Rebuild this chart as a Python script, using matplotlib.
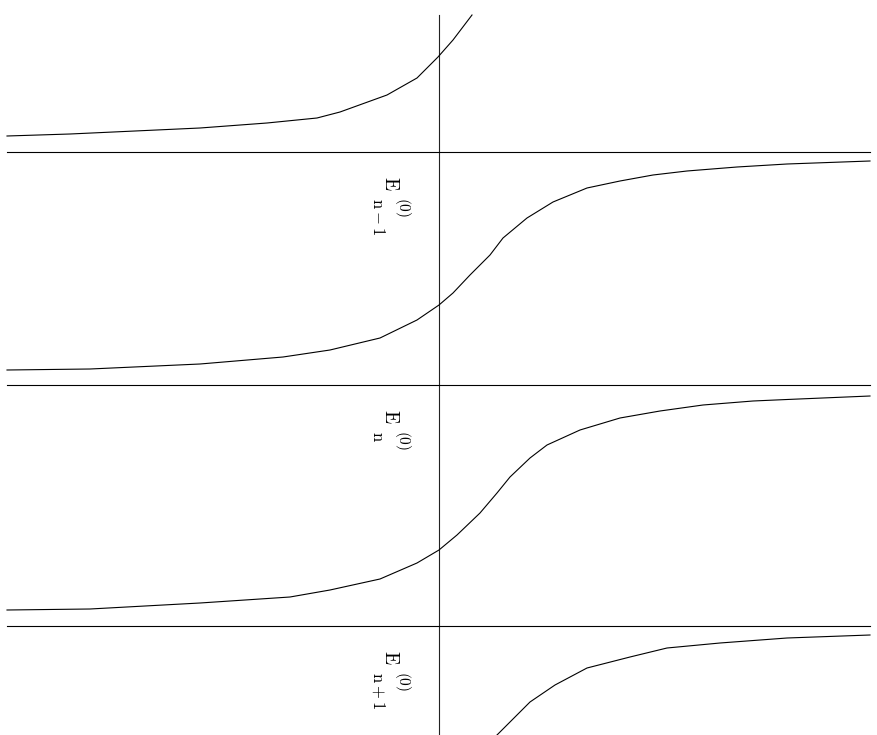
import numpy as np
import matplotlib.pyplot as plt

plt.rcParams['mathtext.fontset'] = 'cm'

# unperturbed levels E_{n-1}, E_n, E_{n+1}
levels = [2.33, 0.0, -2.41]
level_subs = [r'$\mathrm{n}-\mathrm{1}$', r'$\mathrm{n}$', r'$\mathrm{n}+\mathrm{1}$']

# perturbed branches
x1 = [-4.32, -3.69, -2.39, -1.72, -1.22, -0.99, -0.52, -0.22, -0.01, 0.14, 0.33]
y1 = [2.49, 2.51, 2.57, 2.62, 2.67, 2.73, 2.90, 3.07, 3.28, 3.45, 3.70]

x2 = [-4.32, -3.49, -2.39, -1.56, -1.09, -0.59, -0.22, 0.00, 0.14, 0.31, 0.51,
      0.64, 0.88, 1.14, 1.48, 1.81, 2.14, 2.48, 2.98, 3.48, 4.31]
y2 = [0.15, 0.16, 0.21, 0.28, 0.35, 0.47, 0.65, 0.80, 0.92, 1.10, 1.30,
      1.47, 1.67, 1.83, 1.97, 2.04, 2.10, 2.14, 2.18, 2.21, 2.24]

x3 = [-4.32, -3.49, -2.39, -1.49, -1.09, -0.59, -0.22, 0.00, 0.18, 0.41, 0.58,
      0.71, 0.91, 1.08, 1.41, 1.81, 2.21, 2.64, 3.14, 3.48, 4.31]
y3 = [-2.25, -2.24, -2.18, -2.12, -2.05, -1.94, -1.78, -1.65, -1.50, -1.28, -1.08,
      -0.92, -0.73, -0.60, -0.45, -0.33, -0.26, -0.20, -0.16, -0.145, -0.11]

x4 = [0.58, 0.91, 1.16, 1.48, 1.91, 2.28, 2.81, 3.48, 4.31]
y4 = [-3.50, -3.17, -3.00, -2.83, -2.72, -2.63, -2.58, -2.53, -2.50]

fig = plt.figure(figsize=(8.77, 7.35), dpi=100)
ax = fig.add_axes([0, 0, 1, 1])
ax.set_xlim(-4.39, 4.38)
ax.set_ylim(-3.50, 3.85)
ax.axis('off')

lw = 0.8
ax.plot([0, 0], [-3.50, 3.70], color='#222222', lw=lw)

# labels are written top to bottom: E, then (0) above and the index below
kw = dict(rotation=-90, rotation_mode='anchor', ha='left', va='baseline')
for E, sub in zip(levels, level_subs):
    ax.plot([-4.32, 4.31], [E, E], color='black', lw=lw)
    ax.text(-0.54, E - 0.24, r'$\mathrm{E}$', fontsize=14, **kw)
    ax.text(-0.40, E - 0.45, r'$\mathrm{(0)}$', fontsize=11, **kw)
    ax.text(-0.66, E - 0.46, sub, fontsize=12, **kw)

for xs, ys in [(x1, y1), (x2, y2), (x3, y3), (x4, y4)]:
    ax.plot(xs, ys, color='black', lw=lw)

fig.savefig('out.png', dpi=100)
